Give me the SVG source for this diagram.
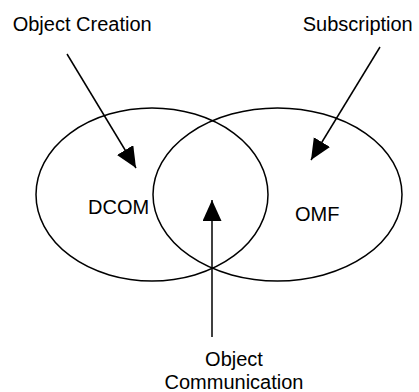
<svg xmlns="http://www.w3.org/2000/svg" width="419" height="392" viewBox="0 0 419 392">
  <style>
    .set { fill: none; stroke: #000; stroke-width: 1.5; }
    .label { font-family: "Liberation Sans", Arial, sans-serif; font-size: 20px; fill: #000; }
    .conn { stroke: #000; stroke-width: 1.5; fill: none; marker-end: url(#head); }
  </style>
  <defs>
    <marker id="head" markerUnits="userSpaceOnUse" markerWidth="22" markerHeight="20" refX="21" refY="9.5" orient="auto">
      <path d="M0,0 L21,9.5 L0,19 z" fill="#000"/>
    </marker>
  </defs>
  <rect width="419" height="392" fill="#fff"/>

  <!-- overlapping sets -->
  <g id="dcom">
    <ellipse class="set" cx="152" cy="194.5" rx="116" ry="86.5"/>
    <text class="label" x="88" y="214">DCOM</text>
  </g>
  <g id="omf">
    <ellipse class="set" cx="277.5" cy="194.5" rx="124.5" ry="86.5"/>
    <text class="label" x="295" y="221">OMF</text>
  </g>

  <!-- feature labels -->
  <g id="object-creation">
    <text class="label" x="12.7" y="31">Object Creation</text>
  </g>
  <g id="subscription">
    <text class="label" x="302.7" y="31">Subscription</text>
  </g>
  <g id="object-communication">
    <text class="label" x="234" y="366" text-anchor="middle">Object</text>
    <text class="label" x="234" y="389" text-anchor="middle">Communication</text>
  </g>

  <!-- pointers from labels into the sets -->
  <g id="connectors">
    <line class="conn" x1="67" y1="54" x2="136" y2="168"/>
    <line class="conn" x1="380" y1="47" x2="311" y2="160"/>
    <line class="conn" x1="212" y1="337" x2="212" y2="200"/>
  </g>
</svg>
